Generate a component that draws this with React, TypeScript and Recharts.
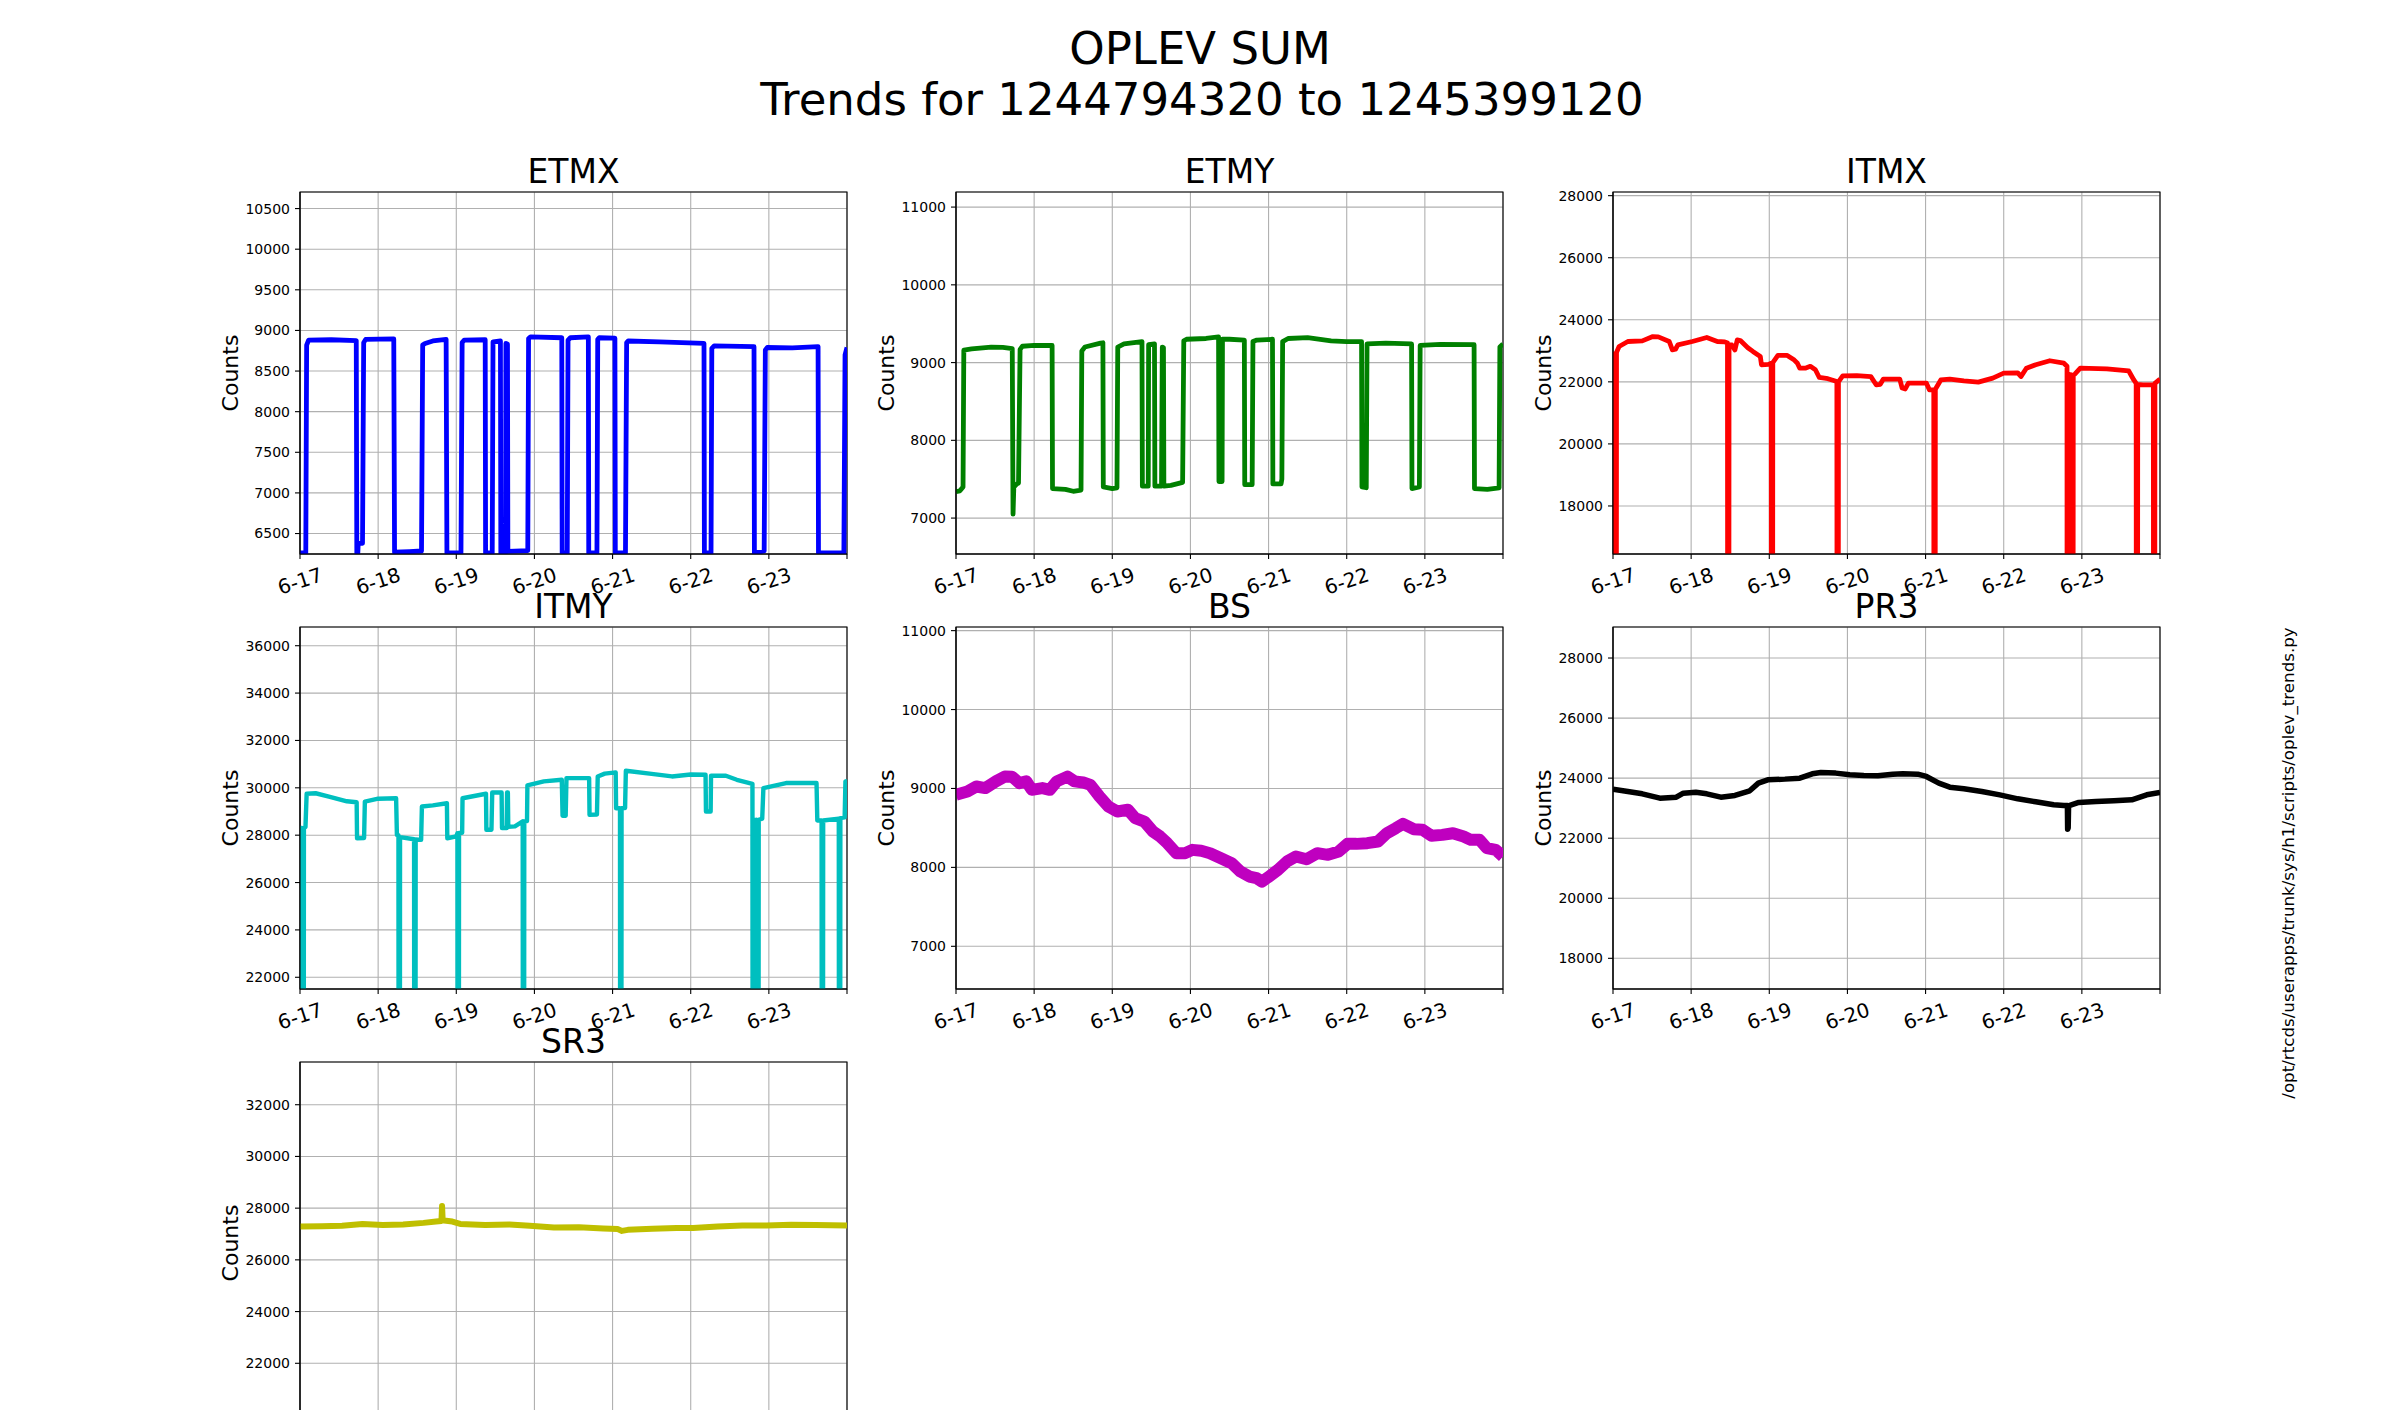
import React from 'react';
import { LineChart, Line, XAxis, YAxis, CartesianGrid, ReferenceArea } from 'recharts';

// time in days since 6-17 00:00 (GPS 1244794320 .. 1245399120)
const DAY_TICKS = [0, 1, 2, 3, 4, 5, 6, 7];
const DAY_LABELS = ['6-17', '6-18', '6-19', '6-20', '6-21', '6-22', '6-23', ''];

const etmx: [number, number][] = [
  [0, 6262], [0.074, 6262], [0.085, 8820], [0.11, 8880], [0.4, 8885], [0.72, 8875],
  [0.727, 6262], [0.74, 6262], [0.745, 6380], [0.8, 6380], [0.815, 8850], [0.84, 8890], [1.2, 8895],
  [1.21, 6270], [1.4, 6278], [1.555, 6285], [1.57, 8820], [1.6, 8840], [1.7, 8870], [1.87, 8890],
  [1.88, 6262], [2.06, 6265], [2.075, 8850], [2.1, 8880], [2.37, 8885], [2.375, 6262], [2.46, 6262],
  [2.47, 8860], [2.565, 8870], [2.57, 6262], [2.63, 6262], [2.635, 8840], [2.655, 8830], [2.66, 6280],
  [2.915, 6290], [2.925, 8900], [2.95, 8920], [3.35, 8910], [3.355, 6262], [3.42, 6262], [3.43, 8880],
  [3.46, 8910], [3.69, 8920], [3.695, 6262], [3.8, 6262], [3.81, 8890], [3.83, 8910], [4.03, 8905],
  [4.035, 6262], [4.165, 6262], [4.18, 8850], [4.2, 8870], [4.6, 8860], [5.17, 8840], [5.175, 6262],
  [5.26, 6262], [5.27, 8780], [5.3, 8810], [5.81, 8800], [5.815, 6262], [5.94, 6285], [5.955, 8760],
  [5.98, 8790], [6.3, 8785], [6.63, 8800], [6.635, 6262], [6.96, 6262], [6.975, 8700], [7.0, 8790],
];

const etmy: [number, number][] = [
  [0, 7340], [0.05, 7350], [0.09, 7400], [0.1, 9160], [0.2, 9175], [0.45, 9200], [0.6, 9195], [0.72, 9180],
  [0.73, 7050], [0.74, 7400], [0.78, 7440], [0.8, 7450], [0.82, 9170], [0.85, 9210], [1.0, 9220], [1.23, 9220],
  [1.235, 7380], [1.4, 7370], [1.5, 7345], [1.6, 7360], [1.61, 9150], [1.65, 9200], [1.85, 9250], [1.88, 9255],
  [1.885, 7400], [2.0, 7380], [2.06, 7390], [2.07, 9200], [2.15, 9240], [2.38, 9270], [2.385, 7410],
  [2.46, 7410], [2.465, 9230], [2.54, 9240], [2.545, 7410], [2.63, 7410], [2.64, 9200], [2.655, 9190],
  [2.66, 7410], [2.75, 7420], [2.9, 7460], [2.915, 9280], [2.95, 9300], [3.2, 9310], [3.36, 9330],
  [3.365, 7470], [3.405, 7470], [3.41, 9300], [3.5, 9300], [3.69, 9290], [3.695, 7430], [3.79, 7430],
  [3.8, 9270], [3.85, 9290], [4.05, 9300], [4.055, 7440], [4.16, 7440], [4.17, 7500], [4.18, 9270],
  [4.25, 9310], [4.5, 9320], [4.8, 9280], [5.0, 9270], [5.19, 9270], [5.195, 7400], [5.25, 7390],
  [5.26, 9240], [5.5, 9250], [5.83, 9240], [5.835, 7380], [5.93, 7400], [5.94, 9220], [6.2, 9235],
  [6.63, 9230], [6.635, 7380], [6.8, 7370], [6.95, 7390], [6.96, 9200], [7.0, 9240],
];

const itmx: [number, number][] = [
  [0, 22850], [0.02, 22900], [0.025, 0], [0.04, 0], [0.045, 22950], [0.078, 23140], [0.19, 23300],
  [0.375, 23320], [0.51, 23460], [0.58, 23450], [0.72, 23300], [0.76, 23030], [0.8, 23050], [0.83, 23190],
  [1.015, 23300], [1.2, 23430], [1.335, 23300], [1.43, 23290], [1.465, 23250], [1.47, 0], [1.48, 0],
  [1.485, 23200], [1.52, 23190], [1.56, 23030], [1.59, 23350], [1.63, 23330], [1.725, 23100], [1.79, 22980],
  [1.885, 22820], [1.9, 22550], [1.99, 22560], [2.025, 22600], [2.03, 0], [2.04, 0], [2.045, 22620],
  [2.11, 22850], [2.23, 22850], [2.32, 22700], [2.36, 22600], [2.39, 22440], [2.46, 22440], [2.525, 22500],
  [2.59, 22390], [2.64, 22140], [2.75, 22100], [2.865, 22010], [2.87, 0], [2.88, 0], [2.885, 22000],
  [2.94, 22190], [3.12, 22200], [3.3, 22170], [3.37, 21900], [3.42, 21920], [3.46, 22090], [3.67, 22090],
  [3.7, 21800], [3.74, 21770], [3.78, 21960], [4.01, 21960], [4.05, 21740], [4.105, 21740], [4.11, 0],
  [4.12, 0], [4.125, 21760], [4.195, 22060], [4.31, 22090], [4.49, 22030], [4.675, 21990], [4.86, 22120],
  [5.0, 22280], [5.18, 22290], [5.22, 22170], [5.29, 22440], [5.41, 22550], [5.59, 22680], [5.77, 22600],
  [5.81, 22500], [5.812, 0], [5.825, 0], [5.83, 22250], [5.84, 0], [5.855, 0], [5.86, 22230], [5.87, 0],
  [5.885, 0], [5.89, 22200], [5.91, 22250], [5.98, 22440], [6.32, 22420], [6.6, 22350], [6.665, 22060],
  [6.695, 21950], [6.7, 0], [6.71, 0], [6.715, 21920], [6.78, 21900], [6.915, 21900], [6.92, 0], [6.93, 0],
  [6.935, 21950], [7.0, 22090],
];

const itmy: [number, number][] = [
  [0, 28300], [0.025, 28300], [0.03, 0], [0.045, 0], [0.05, 28300], [0.07, 28350], [0.085, 29750],
  [0.2, 29770], [0.37, 29630], [0.6, 29430], [0.725, 29390], [0.73, 27870], [0.82, 27880], [0.83, 29420],
  [1.0, 29540], [1.23, 29560], [1.24, 28010], [1.26, 28000], [1.265, 0], [1.275, 0], [1.28, 27920],
  [1.46, 27830], [1.465, 0], [1.475, 0], [1.48, 27820], [1.55, 27800], [1.56, 29210], [1.7, 29260],
  [1.88, 29350], [1.885, 27870], [2.0, 27950], [2.015, 28080], [2.02, 0], [2.03, 0], [2.035, 28090],
  [2.075, 28100], [2.08, 29560], [2.38, 29750], [2.385, 28230], [2.45, 28230], [2.46, 29800], [2.58, 29800],
  [2.585, 28300], [2.645, 28300], [2.65, 29800], [2.66, 29800], [2.665, 28350], [2.75, 28370], [2.85, 28580],
  [2.855, 0], [2.865, 0], [2.87, 28580], [2.905, 28600], [2.91, 30100], [3.12, 30270], [3.35, 30340],
  [3.36, 28820], [3.4, 28820], [3.41, 30410], [3.7, 30410], [3.705, 28860], [3.8, 28870], [3.81, 30480],
  [3.9, 30600], [4.04, 30650], [4.045, 29140], [4.095, 29140], [4.1, 0], [4.11, 0], [4.115, 29140],
  [4.16, 29150], [4.17, 30720], [4.5, 30590], [4.76, 30480], [5.0, 30560], [5.19, 30550], [5.195, 29000],
  [5.255, 29000], [5.26, 30510], [5.45, 30510], [5.59, 30340], [5.79, 30170], [5.795, 0], [5.805, 0],
  [5.81, 28650], [5.82, 0], [5.835, 0], [5.84, 28650], [5.85, 0], [5.865, 0], [5.87, 28650], [5.915, 28700],
  [5.93, 29990], [6.22, 30200], [6.61, 30200], [6.62, 28620], [6.675, 28620], [6.68, 0], [6.69, 0],
  [6.695, 28620], [6.895, 28700], [6.9, 0], [6.91, 0], [6.915, 28720], [6.97, 28750], [6.98, 30270],
  [7.0, 30280],
];

const bs: [number, number][] = [
  [0, 8920], [0.146, 8962], [0.26, 9025], [0.375, 9005], [0.51, 9090], [0.626, 9152], [0.717, 9150],
  [0.81, 9068], [0.9, 9090], [0.97, 8983], [1.105, 9005], [1.2, 8983], [1.29, 9090], [1.425, 9150],
  [1.517, 9090], [1.63, 9075], [1.72, 9046], [1.836, 8899], [1.95, 8772], [2.065, 8708], [2.2, 8730],
  [2.293, 8624], [2.41, 8581], [2.52, 8455], [2.613, 8391], [2.704, 8307], [2.82, 8180], [2.933, 8180],
  [3.024, 8222], [3.138, 8210], [3.25, 8180], [3.39, 8116], [3.527, 8053], [3.64, 7947], [3.755, 7884],
  [3.846, 7863], [3.915, 7820], [4.006, 7884], [4.12, 7968], [4.235, 8074], [4.35, 8138], [4.486, 8103],
  [4.623, 8180], [4.76, 8159], [4.897, 8201], [5.01, 8298], [5.125, 8298], [5.263, 8307], [5.4, 8328],
  [5.514, 8433], [5.628, 8497], [5.72, 8552], [5.857, 8484], [5.97, 8476], [6.085, 8400], [6.222, 8412],
  [6.36, 8433], [6.496, 8391], [6.587, 8349], [6.701, 8349], [6.793, 8243], [6.907, 8222], [7.0, 8138],
];

const pr3: [number, number][] = [
  [0, 23633], [0.19, 23555], [0.375, 23478], [0.6, 23333], [0.81, 23367], [0.9, 23500], [1.06, 23533],
  [1.2, 23478], [1.38, 23367], [1.56, 23422], [1.75, 23578], [1.86, 23833], [1.98, 23944], [2.2, 23967],
  [2.39, 24000], [2.55, 24144], [2.66, 24189], [2.85, 24167], [3.03, 24111], [3.21, 24089], [3.39, 24078],
  [3.58, 24133], [3.71, 24144], [3.9, 24133], [4.01, 24056], [4.17, 23833], [4.31, 23700], [4.49, 23644],
  [4.72, 23555], [4.95, 23444], [5.18, 23311], [5.41, 23211], [5.64, 23111], [5.77, 23089], [5.815, 23090],
  [5.818, 22300], [5.825, 22350], [5.83, 23080], [5.865, 23110], [5.96, 23189], [6.18, 23222], [6.41, 23244],
  [6.64, 23278], [6.83, 23444], [7.0, 23522],
];

const sr3: [number, number][] = [
  [0, 27290], [0.277, 27300], [0.538, 27320], [0.8, 27390], [1.06, 27350], [1.32, 27370], [1.58, 27430],
  [1.74, 27480], [1.81, 27500], [1.818, 28080], [1.826, 27520], [1.844, 27520], [1.95, 27480], [2.05, 27390],
  [2.37, 27350], [2.68, 27370], [2.94, 27320], [3.25, 27250], [3.57, 27260], [3.88, 27210], [4.065, 27190],
  [4.12, 27120], [4.195, 27160], [4.51, 27200], [4.82, 27230], [5.03, 27230], [5.345, 27290], [5.66, 27330],
  [5.97, 27330], [6.285, 27360], [6.6, 27350], [7.0, 27330],
];

const FONT = 'DejaVu Sans';
const COLS = [300, 956, 1613];
const ROWS = [192, 627, 1062];
const PLOT_W = 547;
const PLOT_H = 362;
const Y_AXIS_W = 90;
const TOP_M = 5;
const X_AXIS_H = 60;

type Panel = {
  name: string;
  data: [number, number][];
  color: string;
  width: number;
  domain: [number, number];
  ticks: number[];
  col: number;
  row: number;
};

const PANELS: Panel[] = [
  { name: 'ETMX', data: etmx, color: '#0000ff', width: 4.8, domain: [6248, 10704], ticks: [6500, 7000, 7500, 8000, 8500, 9000, 9500, 10000, 10500], col: 0, row: 0 },
  { name: 'ETMY', data: etmy, color: '#008000', width: 4.8, domain: [6538, 11194], ticks: [7000, 8000, 9000, 10000, 11000], col: 1, row: 0 },
  { name: 'ITMX', data: itmx, color: '#ff0000', width: 4.8, domain: [16452, 28118], ticks: [18000, 20000, 22000, 24000, 26000, 28000], col: 2, row: 0 },
  { name: 'ITMY', data: itmy, color: '#00bfbf', width: 4.4, domain: [21505, 36790], ticks: [22000, 24000, 26000, 28000, 30000, 32000, 34000, 36000], col: 0, row: 1 },
  { name: 'BS', data: bs, color: '#bf00bf', width: 12, domain: [6459, 11046], ticks: [7000, 8000, 9000, 10000, 11000], col: 1, row: 1 },
  { name: 'PR3', data: pr3, color: '#000000', width: 5.5, domain: [16978, 29033], ticks: [18000, 20000, 22000, 24000, 26000, 28000], col: 2, row: 1 },
  { name: 'SR3', data: sr3, color: '#bfbf00', width: 6, domain: [19652, 33652], ticks: [22000, 24000, 26000, 28000, 30000, 32000], col: 0, row: 2 },
];

const XTick = (props: any) => {
  const { x, y, payload, hidden } = props;
  const label = DAY_LABELS[Math.round(payload.value)];
  if (!label || hidden) return <g />;
  const cy = y + 22;
  return (
    <text x={x} y={cy} textAnchor="middle" dominantBaseline="central" fontSize={20} fontFamily={FONT} fill="#000"
      transform={`rotate(-18 ${x} ${cy})`}>{label}</text>
  );
};

const PanelChart = ({ p }: { p: Panel }) => {
  const rows = p.data.map(([t, v]) => ({ t, v }));
  const left = COLS[p.col] - Y_AXIS_W;
  const top = ROWS[p.row] - TOP_M;
  // the bottom row's date labels fall below the 1410 px page edge in the reference
  const hideDates = p.row === 2;
  return (
    <div style={{ position: 'absolute', left, top }}>
      <LineChart width={Y_AXIS_W + PLOT_W + 10} height={TOP_M + PLOT_H + X_AXIS_H} data={rows}
        margin={{ top: TOP_M, right: 10, left: 0, bottom: 0 }}>
        <CartesianGrid stroke="#b0b0b0" strokeWidth={1.1} />
        <XAxis dataKey="t" type="number" domain={[0, 7]} ticks={DAY_TICKS} interval={0} height={X_AXIS_H}
          tickSize={5} tickMargin={0} tick={<XTick hidden={hideDates} />} axisLine={{ stroke: '#000', strokeWidth: 1.1 }}
          tickLine={{ stroke: '#000', strokeWidth: 1.1 }} allowDataOverflow />
        <YAxis type="number" domain={p.domain} ticks={p.ticks} interval={0} width={Y_AXIS_W} allowDataOverflow
          tickSize={5} tickMargin={5} axisLine={{ stroke: '#000', strokeWidth: 1.1 }}
          tickLine={{ stroke: '#000', strokeWidth: 1.1 }}
          tick={{ fontSize: 14, fill: '#000', fontFamily: FONT }} />
        <Line dataKey="v" type="linear" stroke={p.color} strokeWidth={p.width} dot={false}
          strokeLinejoin="round" isAnimationActive={false} />
        <ReferenceArea x1={0} x2={7} y1={p.domain[0]} y2={p.domain[1]} fill="none" fillOpacity={0}
          stroke="#000" strokeWidth={1.1} />
      </LineChart>
    </div>
  );
};

export default function App() {
  return (
    <div style={{ position: 'absolute', left: 0, top: 0, width: 2400, height: 1410, overflow: 'hidden', background: '#fff', fontFamily: FONT }}>
      {PANELS.map((p) => <PanelChart key={p.name} p={p} />)}
      <svg width={2400} height={1410} style={{ position: 'absolute', left: 0, top: 0, pointerEvents: 'none' }}>
        <text x={1200} y={64} textAnchor="middle" fontSize={45} fontFamily={FONT} fill="#000">OPLEV SUM</text>
        <text x={1202} y={115} textAnchor="middle" fontSize={45} fontFamily={FONT} fill="#000">Trends for 1244794320 to 1245399120</text>
        {PANELS.map((p) => {
          const cx = COLS[p.col] + PLOT_W / 2;
          const cy = ROWS[p.row] + PLOT_H / 2;
          const lx = COLS[p.col] - 70;
          return (
            <g key={p.name}>
              <text x={cx} y={ROWS[p.row] - 9} textAnchor="middle" fontSize={33} fontFamily={FONT} fill="#000">{p.name}</text>
              <text x={lx} y={cy} textAnchor="middle" dominantBaseline="central" fontSize={22} fontFamily={FONT} fill="#000"
                transform={`rotate(-90 ${lx} ${cy})`}>Counts</text>
            </g>
          );
        })}
        <text x={2288} y={863} textAnchor="middle" dominantBaseline="central" fontSize={16.7} fontFamily={FONT} fill="#000"
          transform="rotate(-90 2288 863)">/opt/rtcds/userapps/trunk/sys/h1/scripts/oplev_trends.py</text>
      </svg>
    </div>
  );
}
